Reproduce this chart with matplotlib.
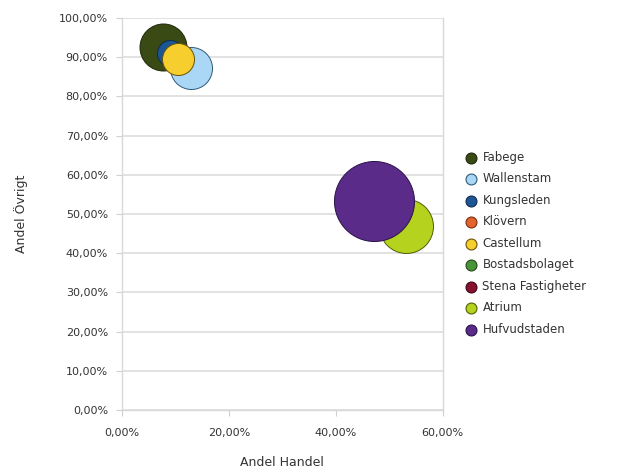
import matplotlib.pyplot as plt
from matplotlib.ticker import FuncFormatter

# data (x = Andel Handel, y = Andel Övrigt, size = bubble value)
bolag = ["Fabege", "Wallenstam", "Kungsleden", "Klövern", "Castellum",
         "Bostadsbolaget", "Stena Fastigheter", "Atrium", "Hufvudstaden"]
andel_handel = [7.7, 12.9, 9.0, None, 10.5, None, None, 53.1, 47.1]
andel_ovrigt = [92.6, 87.2, 91.0, None, 89.5, None, None, 46.9, 53.3]
storlek = [23.5, 21, 13, None, 16, None, None, 27, 40]

farger = ["#3a4a14", "#a9d7f5", "#1d5694", "#e4622c", "#f6cf2e",
          "#4a9438", "#861230", "#b5d21e", "#5a2b88"]
kanter = ["#1e280a", "#2e5a78", "#0e2c50", "#7a3010", "#6a5208",
          "#244a1a", "#400818", "#4e6008", "#2a1248"]
lager = [3, 2, 4, 1, 5, 1, 1, 6, 7]

fig = plt.figure(figsize=(6.38, 4.74), dpi=100)
ax = fig.add_axes([0.191, 0.135, 0.503, 0.827])

for i in range(len(bolag)):
    if andel_handel[i] is not None:
        r = storlek[i] * 1.44  # px-radie -> punkter (diameter)
        ax.scatter(andel_handel[i], andel_ovrigt[i], s=r ** 2, c=farger[i],
                   edgecolors=kanter[i], linewidths=0.7, zorder=lager[i] + 2)
    # legendpost (även för bolag utan synlig bubbla)
    ax.scatter([], [], s=62, c=farger[i], edgecolors=kanter[i],
               linewidths=0.8, label=bolag[i])

ax.set_xlim(0, 60)
ax.set_ylim(0, 100)
ax.set_xticks([0, 20, 40, 60])
ax.set_yticks(range(0, 101, 10))
fmt = FuncFormatter(lambda v, p: ("%.2f%%" % v).replace(".", ","))
ax.xaxis.set_major_formatter(fmt)
ax.yaxis.set_major_formatter(fmt)

ax.grid(axis="y", color="#dddddd", linewidth=1.2, zorder=0)
ax.set_axisbelow(True)
ax.spines["top"].set_visible(False)
for s in ["left", "bottom", "right"]:
    ax.spines[s].set_color("#d8d8d8")
    ax.spines[s].set_linewidth(1.0)
ax.tick_params(colors="#d0d0d0", labelcolor="#333333", labelsize=8, length=4)
ax.tick_params(axis="x", pad=9)
ax.tick_params(axis="y", pad=6)

ax.set_xlabel("Andel Handel", fontsize=9, color="#333333", labelpad=13)
ax.set_ylabel("Andel Övrigt", fontsize=9, color="#333333", labelpad=22)

leg = ax.legend(loc="center left", bbox_to_anchor=(1.05, 0.425), frameon=False,
                fontsize=8.5, handletextpad=0.4, labelspacing=0.72,
                borderaxespad=0, handlelength=1.2)
for t in leg.get_texts():
    t.set_color("#333333")

fig.savefig("out.png", dpi=100)
